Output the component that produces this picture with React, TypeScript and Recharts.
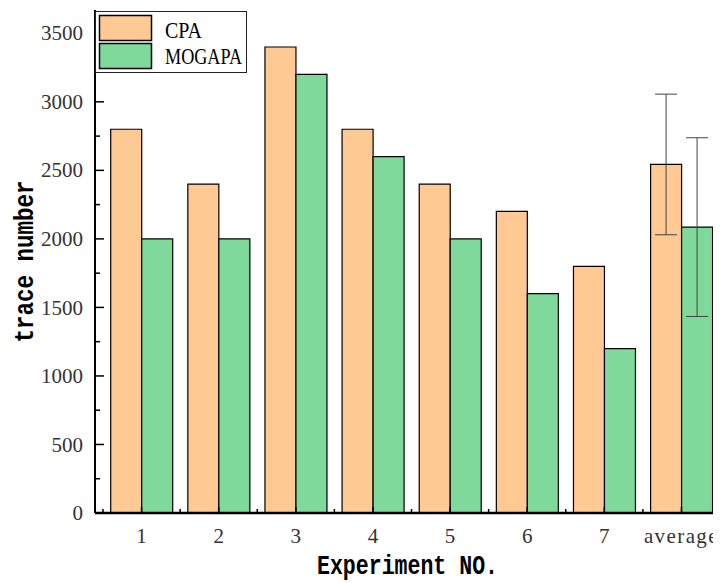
import { BarChart, Bar, XAxis, YAxis, ErrorBar, Legend, Label } from 'recharts';

const experiments = ['1', '2', '3', '4', '5', '6', '7', 'average'];
const cpaTraces = [2800, 2400, 3400, 2800, 2400, 2200, 1800, 2543];
const mogapaTraces = [2000, 2000, 3200, 2600, 2000, 1600, 1200, 2086];
const cpaError = [null, null, null, null, null, null, null, 513];
const mogapaError = [null, null, null, null, null, null, null, 652];
const yTicks = [0, 250, 500, 750, 1000, 1250, 1500, 1750, 2000, 2250, 2500, 2750, 3000, 3250, 3500];

const data = experiments.map((name, i) => ({
  name,
  cpa: cpaTraces[i],
  mogapa: mogapaTraces[i],
  cpaErr: cpaError[i],
  mogapaErr: mogapaError[i],
}));

const SERIF = '"Liberation Serif", "DejaVu Serif", serif';
const MONO = '"Liberation Mono", "DejaVu Sans Mono", monospace';

// text squeezed horizontally, like the narrow CJK serif of the original
function Narrow({ x, y, width, scale, rotate, anchor, ...rest }: any) {
  const tf = `translate(${x}, ${y})${rotate ? ` rotate(${rotate})` : ''} scale(${scale}, 1)`;
  return (
    <text x={0} y={0} transform={tf} textAnchor={anchor || 'start'} textLength={width / scale}
      lengthAdjust="spacingAndGlyphs" {...rest} />
  );
}

function YTick(props: any) {
  const { x, y, payload } = props;
  const axisX = x + 12;
  const major = payload.value % 500 === 0;
  return (
    <g>
      <line x1={axisX} x2={axisX + (major ? 9 : 5)} y1={y} y2={y} stroke="#000" strokeWidth={1.5} />
      {major && (
        <text x={x} y={y} dy="0.34em" textAnchor="end" fontFamily={SERIF} fontSize={21} fill="#333">
          {payload.value}
        </text>
      )}
    </g>
  );
}

function XTick(props: any) {
  const { x, y, payload } = props;
  const axisY = y;
  const half = payload.offset || 0;
  const isAvg = payload.value === 'average';
  return (
    <g>
      <line x1={x} x2={x} y1={axisY} y2={axisY - 6} stroke="#000" strokeWidth={1.5} />
      <line x1={x - half} x2={x - half} y1={axisY} y2={axisY - 4} stroke="#000" strokeWidth={1.5} />
      <text x={x} y={axisY + 30} textAnchor="middle" fontFamily={SERIF} fontSize={21} fill="#333"
        letterSpacing={isAvg ? 1.4 : 0}>
        {payload.value}
      </text>
    </g>
  );
}

function XTitle(props: any) {
  const { x, y, width } = props.viewBox;
  return (
    <Narrow x={x + width / 2} y={y + 61} width={181} scale={0.77} anchor="middle" fontFamily={MONO}
      fontWeight="bold" fontSize={28} fill="#000">
      Experiment NO.
    </Narrow>
  );
}

function YTitle(props: any) {
  const { y, height } = props.viewBox;
  return (
    <Narrow x={25} y={y + height / 2} rotate={-90} width={162} scale={0.8} anchor="middle" fontFamily={MONO}
      fontWeight="bold" fontSize={28} fill="#000">
      trace number
    </Narrow>
  );
}

function LegendBox(props: any) {
  const items = props.payload || [];
  const widths: Record<string, number> = { CPA: 37, MOGAPA: 77 };
  return (
    <svg width={153} height={63} style={{ display: 'block' }}>
      <rect x={0.5} y={0.5} width={151} height={61} fill="#fff" stroke="#222" strokeWidth={1} />
      {items.map((it: any, i: number) => (
        <g key={it.value}>
          <rect x={4.5} y={4.5 + i * 28} width={52} height={25} fill={it.color} stroke="#000" strokeWidth={1.5} />
          <Narrow x={70} y={27 + i * 26} width={widths[it.value]} scale={0.7} fontFamily={SERIF}
            fontSize={24} fill="#000">
            {it.value}
          </Narrow>
        </g>
      ))}
    </svg>
  );
}

export default function App() {
  return (
    <div style={{ width: 713, height: 575 }}>
      <BarChart width={713} height={575} data={data} margin={{ top: 2, right: 1, left: 0, bottom: 0 }}
        barCategoryGap="10%" barGap={0}>
        <XAxis xAxisId="top" orientation="top" dataKey="name" height={0} tick={false} tickLine={false}
          axisLine={{ stroke: '#333', strokeWidth: 1 }} padding={{ left: 8, right: 0 }} />
        <YAxis yAxisId="right" orientation="right" width={0} tick={false} tickLine={false}
          axisLine={{ stroke: '#333', strokeWidth: 1 }} domain={[0, 3670]} />
        <XAxis dataKey="name" height={70} tickLine={false} tickSize={0} tickMargin={0} interval={0}
          axisLine={{ stroke: '#000', strokeWidth: 2.5 }} padding={{ left: 8, right: 0 }} tick={<XTick />}>
          <Label content={<XTitle />} />
        </XAxis>
        <YAxis width={87} domain={[0, 3670]} ticks={yTicks} interval={0} tickLine={false} tickSize={0}
          tickMargin={12} axisLine={{ stroke: '#000', strokeWidth: 2 }} tick={<YTick />}>
          <Label content={<YTitle />} />
        </YAxis>
        <Legend layout="horizontal" verticalAlign="middle" align="center" content={<LegendBox />}
          wrapperStyle={{ left: 87, top: 3, width: 153, height: 63 }} />
        <Bar dataKey="cpa" name="CPA" fill="#FFC993" stroke="#000" strokeWidth={1.2} isAnimationActive={false}>
          <ErrorBar dataKey="cpaErr" width={11} stroke="#444" strokeWidth={1} />
        </Bar>
        <Bar dataKey="mogapa" name="MOGAPA" fill="#7FD99B" stroke="#000" strokeWidth={1.2} isAnimationActive={false}>
          <ErrorBar dataKey="mogapaErr" width={11} stroke="#444" strokeWidth={1} />
        </Bar>
      </BarChart>
    </div>
  );
}
